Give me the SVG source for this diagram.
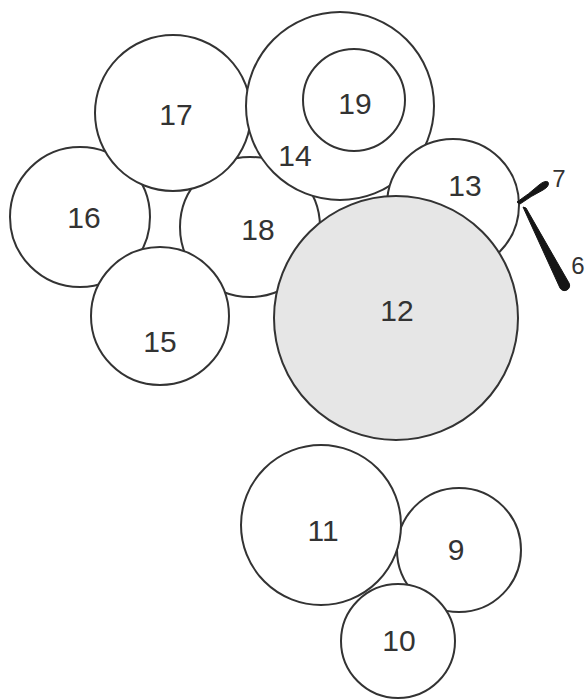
<svg xmlns="http://www.w3.org/2000/svg" width="587" height="699" viewBox="0 0 587 699">
<style>
.c{fill:#fff;stroke:#333;stroke-width:2}
.g{fill:#e6e6e6;stroke:#333;stroke-width:2}
.t{font-family:"Liberation Sans",Arial,sans-serif;font-size:30px;fill:#333;text-anchor:middle;dominant-baseline:central}
.s{font-family:"Liberation Sans",Arial,sans-serif;font-size:24px;fill:#333;text-anchor:middle;dominant-baseline:central}
.k{fill:#151515;stroke:#151515;stroke-width:1}
</style>
<rect width="587" height="699" fill="#fff"/>
<g id="n16"><circle class="c" cx="80" cy="217" r="70"/><text class="t" x="84" y="217">16</text></g>
<g id="n18"><circle class="c" cx="250" cy="227" r="70"/><text class="t" x="258" y="229">18</text></g>
<g id="n17"><circle class="c" cx="173" cy="113" r="78"/><text class="t" x="176" y="114">17</text></g>
<g id="n15"><circle class="c" cx="160" cy="316" r="69"/><text class="t" x="160" y="341">15</text></g>
<g id="n14"><circle class="c" cx="340" cy="106" r="94"/><text class="t" x="295" y="155">14</text></g>
<g id="n19"><circle class="c" cx="354" cy="100" r="51"/><text class="t" x="355" y="103">19</text></g>
<g id="n13"><circle class="c" cx="453" cy="205" r="66"/><text class="t" x="465" y="185">13</text></g>
<g id="n12"><circle class="g" cx="396" cy="318" r="122"/><text class="t" x="397" y="310">12</text></g>
<g id="n9"><circle class="c" cx="459" cy="550" r="62"/><text class="t" x="456" y="549">9</text></g>
<g id="n11"><circle class="c" cx="321" cy="525" r="80"/><text class="t" x="323" y="530">11</text></g>
<g id="n10"><circle class="c" cx="398" cy="641" r="57"/><text class="t" x="399" y="640">10</text></g>
<g id="n7"><path class="k" d="M517,202 Q529,194 539,185 Q545,180 548,182 Q550,186 543,190 Q531,196 520,204 Z"/><text class="s" x="559" y="178">7</text></g>
<g id="n6"><path class="k" d="M523,207 L526,208 L569,283 A5,5 0 0 1 560,288 Z"/><text class="s" x="578" y="265">6</text></g>
<g id="connectors"></g>
</svg>
